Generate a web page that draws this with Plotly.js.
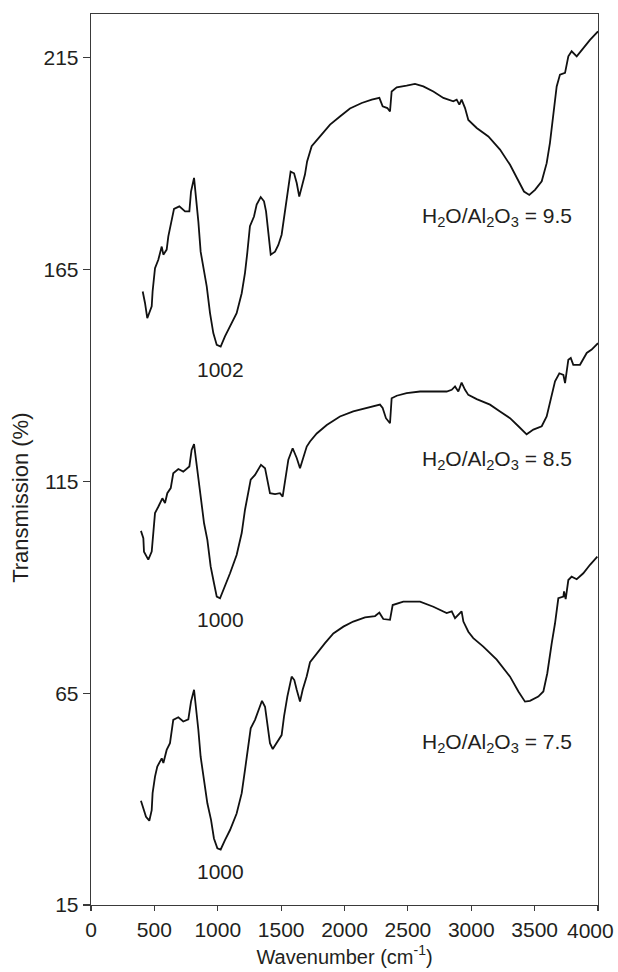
<!DOCTYPE html>
<html>
<head>
<meta charset="utf-8">
<script src="https://cdn.plot.ly/plotly-3.0.1.min.js"></script>
<style>html,body{margin:0;padding:0;background:#fff;}#chart{width:618px;height:972px;}</style>
</head>
<body>
<div id="chart"></div>
<script>
// H2O/Al2O3 = 9.5 spectrum
const wn95 = [408,426,444,479,486,505,531,558,571,597,610,636,655,697,742,776,789,813,826,847,865,886,913,939,965,992,1023,1057,1097,1149,1189,1215,1233,1254,1286,1307,1339,1365,1381,1399,1418,1452,1478,1504,1531,1549,1575,1602,1623,1643,1662,1688,1705,1741,1807,1886,1964,2043,2136,2215,2275,2301,2338,2359,2372,2412,2490,2556,2622,2701,2780,2858,2885,2906,2924,2951,2977,3043,3135,3227,3306,3372,3416,3458,3503,3556,3595,3621,3647,3674,3700,3740,3766,3792,3832,3884,3937,4000];
const t95 = [159.8,157.1,153.5,156.3,159.8,165.3,167.3,170.4,168.5,169.7,172.8,176.3,179.3,179.9,178.7,178.7,183.4,186.6,183.0,176.3,169.2,165.7,161.0,154.7,150.0,147.2,146.8,149.2,151.5,154.7,159.4,164.2,168.9,175.2,177.5,180.3,182.1,181.1,178.7,173.2,168.5,169.2,170.8,173.2,179.1,183.0,188.1,187.7,185.4,182.2,184.6,187.4,190.5,194.1,196.4,199.2,201.1,203.0,204.3,205.1,205.5,203.5,203.1,202.3,207.0,208.0,208.4,208.8,208.2,207.0,205.5,204.7,205.1,203.9,205.1,203.1,200.3,198.4,196.4,193.3,189.7,185.8,183.4,182.6,183.8,185.8,190.1,194.9,201.9,208.2,211.0,211.4,215.3,216.5,215.3,217.3,219.2,221.2];

// H2O/Al2O3 = 8.5 spectrum
const wn85 = [394,413,418,452,479,492,505,531,563,584,602,629,649,689,728,776,794,813,826,847,868,892,918,944,970,992,1018,1057,1097,1149,1189,1215,1241,1260,1294,1341,1373,1391,1412,1452,1491,1512,1531,1557,1591,1623,1649,1670,1702,1728,1781,1860,1964,2069,2175,2280,2301,2327,2359,2372,2412,2490,2596,2701,2806,2846,2872,2898,2924,2951,2977,3043,3148,3227,3306,3372,3437,3490,3556,3595,3627,3661,3695,3727,3740,3766,3785,3805,3858,3911,3950,4000];
const t85 = [103.3,101.6,98.4,96.5,98.4,103.5,107.5,109.0,111.0,109.9,112.2,113.4,116.9,117.9,117.3,118.5,122.4,123.8,120.5,115.7,110.6,105.1,101.2,94.9,91.0,87.8,87.4,90.2,93.3,97.6,102.8,108.3,113.0,115.4,116.5,118.9,118.1,115.4,112.2,112.0,112.2,111.4,114.9,120.1,122.8,120.5,118.1,120.1,123.2,124.4,126.3,128.3,130.3,131.5,132.3,133.1,132.3,129.9,128.7,134.6,135.2,135.8,136.2,136.2,136.2,136.6,137.4,136.2,138.3,136.6,135.4,134.4,133.1,131.5,129.9,128.0,126.1,127.2,128.0,130.3,134.2,138.6,140.5,140.1,138.2,143.7,144.1,142.5,142.5,145.3,146.1,147.6];

// H2O/Al2O3 = 7.5 spectrum
const wn75 = [394,413,434,460,479,486,505,523,558,571,597,623,649,689,728,768,789,813,828,847,865,892,918,947,970,997,1023,1057,1097,1149,1189,1215,1241,1260,1294,1320,1349,1373,1391,1412,1434,1465,1504,1523,1549,1583,1604,1623,1649,1670,1702,1728,1781,1846,1912,1991,2069,2162,2241,2275,2306,2359,2380,2464,2596,2701,2806,2846,2872,2898,2924,2938,2977,3016,3095,3201,3306,3372,3424,3463,3529,3569,3600,3635,3661,3687,3727,3732,3745,3766,3792,3832,3884,3937,3995];
const t75 = [39.6,37.8,35.8,34.9,37.4,41.4,45.3,47.7,49.6,48.5,51.6,53.2,58.7,59.3,58.3,58.8,63.0,65.8,61.8,56.3,50.0,44.5,39.0,35.1,30.7,28.4,28.1,30.3,32.7,36.6,41.4,46.9,53.2,56.7,58.7,61.0,63.2,61.8,57.9,53.2,51.8,53.2,55.1,59.5,64.2,68.9,68.1,65.8,63.0,65.8,69.0,72.3,74.4,76.8,79.1,80.7,81.9,82.9,83.2,84.0,82.5,82.3,85.8,86.6,86.6,85.4,83.9,84.3,82.7,83.5,84.3,81.9,79.5,78.0,76.0,72.9,68.9,65.4,63.0,63.2,64.2,65.4,69.7,76.8,81.5,87.4,87.8,89.0,87.2,91.7,92.5,91.9,93.3,95.3,97.2];

const xTicks = [0,500,1000,1500,2000,2500,3000,3500,4000];
const xTickText = ['0','500','1000','1500','2000','2500','3000','3500','4000'];
const yTicks = [15,65,115,165,215];

const peakLabels = ['1002','1000','1000'];
const peakX = [1025,1025,1025];
const peakY = [141.3,82.3,23.0];

const ratioLabels = ['H<sub>2</sub>O/Al<sub>2</sub>O<sub>3</sub> = 9.5','H<sub>2</sub>O/Al<sub>2</sub>O<sub>3</sub> = 8.5','H<sub>2</sub>O/Al<sub>2</sub>O<sub>3</sub> = 7.5'];
const ratioX = [3203,3203,3203];
const ratioY = [177.4,120.0,53.3];

const FONT = 'Arial, "Liberation Sans", Helvetica, sans-serif';
const TXT = '#231f20';
const lineStyle = {color:'#111111', width:1.8};

const traces = [
  {x:wn95, y:t95, type:'scatter', mode:'lines', line:lineStyle, hoverinfo:'skip'},
  {x:wn85, y:t85, type:'scatter', mode:'lines', line:lineStyle, hoverinfo:'skip'},
  {x:wn75, y:t75, type:'scatter', mode:'lines', line:lineStyle, hoverinfo:'skip'}
];

const annotations = [];
for (let i=0;i<peakLabels.length;i++){
  annotations.push({x:peakX[i], y:peakY[i], xref:'x', yref:'y', text:peakLabels[i], showarrow:false, xanchor:'center', yanchor:'middle', font:{family:FONT, size:21, color:TXT}});
}
for (let i=0;i<ratioLabels.length;i++){
  annotations.push({x:ratioX[i], y:ratioY[i], xref:'x', yref:'y', text:ratioLabels[i], showarrow:false, xanchor:'center', yanchor:'middle', font:{family:FONT, size:21, color:TXT}});
}
// last x tick label, nudged left so that it stays inside the picture
const lastIdx = xTicks.length - 1;
annotations.push({x:xTicks[lastIdx], y:0, xref:'x', yref:'paper', text:xTickText[lastIdx], showarrow:false,
  xanchor:'center', yanchor:'top', xshift:-8, yshift:-12, font:{family:FONT, size:21, color:TXT}});
// y axis title
annotations.push({x:-0.138, y:0.457, xref:'paper', yref:'paper', text:'Transmission (%)', showarrow:false,
  textangle:-90, xanchor:'center', yanchor:'middle', font:{family:FONT, size:22, color:TXT}});

const axisCommon = {
  showgrid:false, zeroline:false, showline:true, mirror:true,
  linecolor:'#3a3a3a', linewidth:1.3,
  ticks:'outside', tickwidth:1.2, tickcolor:'#3a3a3a',
  tickfont:{family:FONT, size:21, color:TXT}
};

const layout = {
  width:618, height:972,
  margin:{l:91, r:20, t:14, b:67, pad:0},
  paper_bgcolor:'#ffffff', plot_bgcolor:'#ffffff',
  showlegend:false,
  xaxis:Object.assign({}, axisCommon, {
    range:[0,4000], tickmode:'array', tickvals:xTicks,
    ticktext:xTickText.map((t,i)=> i===lastIdx ? '' : t), ticklen:5,
    title:{text:'Wavenumber (cm<sup>-1</sup>)', font:{family:FONT, size:20, color:TXT}, standoff:10}
  }),
  yaxis:Object.assign({}, axisCommon, {
    range:[15,225.3], tickmode:'array', tickvals:yTicks, ticktext:yTicks.map(String), ticklen:7
  }),
  annotations:annotations
};

Plotly.newPlot('chart', traces, layout, {staticPlot:true, displayModeBar:false});
</script>
</body>
</html>
